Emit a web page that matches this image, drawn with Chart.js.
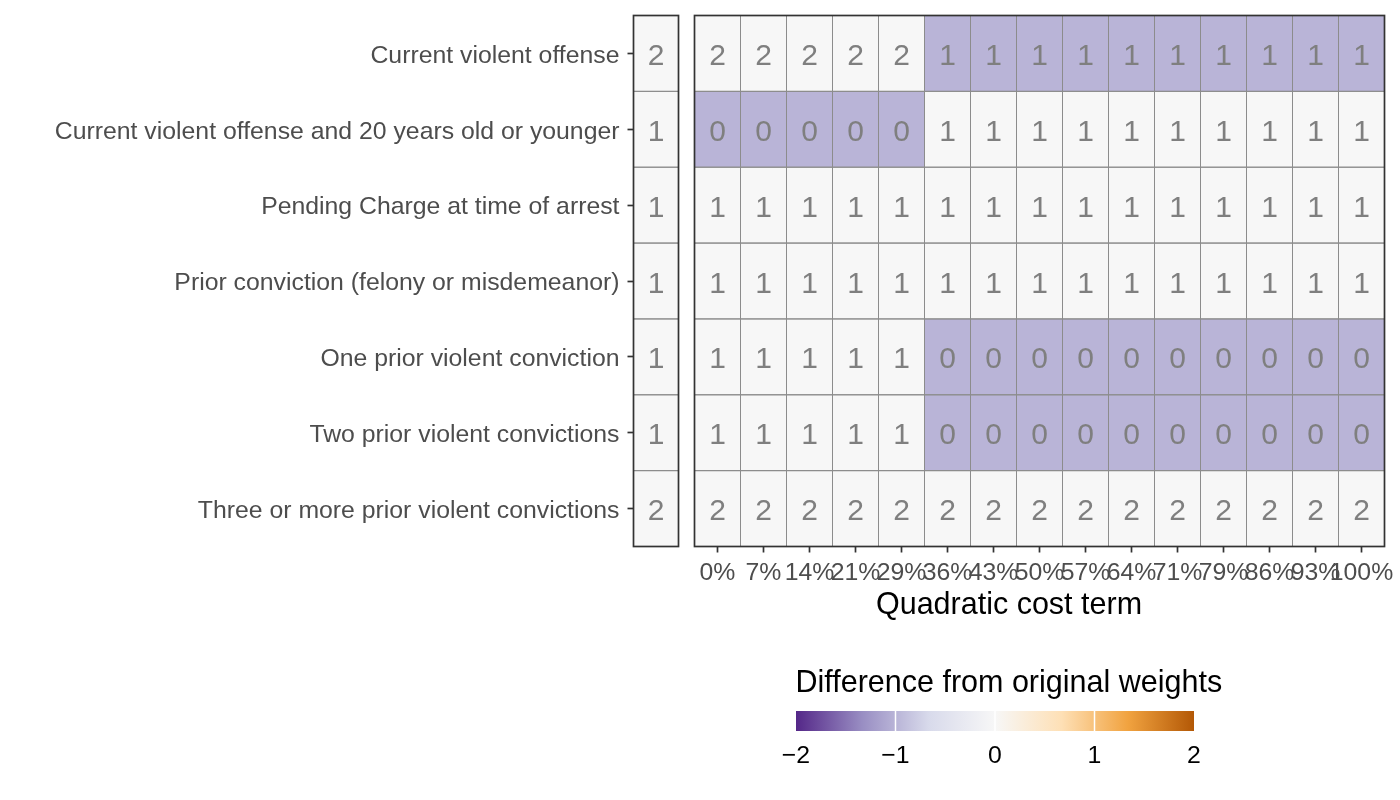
<!DOCTYPE html>
<html>
<head>
<meta charset="utf-8">
<script src="https://cdn.jsdelivr.net/npm/chart.js@4.4.1/dist/chart.umd.min.js"></script>
<style>
  html, body { margin: 0; padding: 0; background: #ffffff; }
  #wrap { position: relative; width: 1400px; height: 800px; }
  canvas { position: absolute; left: 0; top: 0; }
</style>
</head>
<body>
<div id="wrap">
  <canvas id="orig" width="1400" height="800"></canvas>
  <canvas id="main" width="1400" height="800"></canvas>
</div>
<script>
// ---------- data ----------
const rowLabels = [
  "Current violent offense",
  "Current violent offense and 20 years old or younger",
  "Pending Charge at time of arrest",
  "Prior conviction (felony or misdemeanor)",
  "One prior violent conviction",
  "Two prior violent convictions",
  "Three or more prior violent convictions"
];
const originalWeights = [2, 1, 1, 1, 1, 1, 2];
const costLabels = ["0%","7%","14%","21%","29%","36%","43%","50%","57%","64%","71%","79%","86%","93%","100%"];
const wCurrentViolent  = [2,2,2,2,2,1,1,1,1,1,1,1,1,1,1];
const wViolentYoung    = [0,0,0,0,0,1,1,1,1,1,1,1,1,1,1];
const wPendingCharge   = [1,1,1,1,1,1,1,1,1,1,1,1,1,1,1];
const wPriorConviction = [1,1,1,1,1,1,1,1,1,1,1,1,1,1,1];
const wOnePriorViolent = [1,1,1,1,1,0,0,0,0,0,0,0,0,0,0];
const wTwoPriorViolent = [1,1,1,1,1,0,0,0,0,0,0,0,0,0,0];
const wThreePlusViolent= [2,2,2,2,2,2,2,2,2,2,2,2,2,2,2];
const newWeights = [wCurrentViolent, wViolentYoung, wPendingCharge, wPriorConviction,
                    wOnePriorViolent, wTwoPriorViolent, wThreePlusViolent];
const legendBreaks = [-2, -1, 0, 1, 2];
const legendTitle = "Difference from original weights";
const xTitle = "Quadratic cost term";

// ---------- colour scale (PuOr, 7 stops over -2..2) ----------
const paletteStops = [
  [-2, "#542788"], [-4/3, "#998ec3"], [-2/3, "#d8daeb"], [0, "#f7f7f7"],
  [2/3, "#fee0b6"], [4/3, "#f1a340"], [2, "#b35806"]
];
function hexToRgb(h) { return [parseInt(h.slice(1,3),16), parseInt(h.slice(3,5),16), parseInt(h.slice(5,7),16)]; }
function fillFor(d) {
  d = Math.max(-2, Math.min(2, d));
  for (let i = 0; i < paletteStops.length - 1; i++) {
    const [a, ca] = paletteStops[i], [b, cb] = paletteStops[i+1];
    if (d >= a && d <= b) {
      const t = (d - a) / (b - a);
      const A = hexToRgb(ca), B = hexToRgb(cb);
      const c = A.map((v, k) => Math.round(v + (B[k] - v) * t));
      return `rgb(${c[0]},${c[1]},${c[2]})`;
    }
  }
  return "#f7f7f7";
}

const FONT = '"Liberation Sans", Arial, Helvetica, sans-serif';
const PANEL_TOP = 15.5, PANEL_BOTTOM = 546.5;
const LEFT_PANEL = [633.5, 678.5], MAIN_PANEL = [694.5, 1384.5];

// ---------- plugins ----------
const cellText = {
  id: 'cellText',
  afterDatasetsDraw(chart) {
    const ctx = chart.ctx;
    ctx.save();
    // cell outlines
    ctx.strokeStyle = '#8c8c8c';
    ctx.lineWidth = 1;
    chart.data.datasets.forEach((ds, di) => {
      chart.getDatasetMeta(di).data.forEach(el => {
        const h = el.height;
        ctx.strokeRect(Math.min(el.base, el.x), el.y - h / 2, Math.abs(el.x - el.base), h);
      });
    });
    // panel border
    const a = chart.chartArea;
    ctx.strokeStyle = '#333333';
    ctx.lineWidth = 1.7;
    ctx.strokeRect(a.left, a.top, a.right - a.left, a.bottom - a.top);
    // cell values
    ctx.font = '30px ' + FONT;
    ctx.fillStyle = '#7f7f7f';
    ctx.textAlign = 'center';
    ctx.textBaseline = 'alphabetic';
    chart.data.datasets.forEach((ds, di) => {
      chart.getDatasetMeta(di).data.forEach((el, ri) => {
        ctx.fillText(String(ds.cellLabels[ri]), (el.x + el.base) / 2, el.y + 11.6);
      });
    });
    ctx.restore();
  }
};

const extras = {
  id: 'extras',
  afterDraw(chart) {
    const ctx = chart.ctx;
    ctx.save();
    // x axis title, centred across both panels
    ctx.font = '30.5px ' + FONT;
    ctx.fillStyle = '#000000';
    ctx.textAlign = 'center';
    ctx.textBaseline = 'alphabetic';
    ctx.fillText(xTitle, (LEFT_PANEL[0] + MAIN_PANEL[1]) / 2, 614);
    // colour bar legend
    const x0 = 796, x1 = 1194, y0 = 711, y1 = 731;
    const lo = legendBreaks[0], hi = legendBreaks[legendBreaks.length - 1];
    const px = v => x0 + (v - lo) / (hi - lo) * (x1 - x0);
    ctx.textAlign = 'left';
    ctx.fillText(legendTitle, 795.5, 692);
    const g = ctx.createLinearGradient(x0, 0, x1, 0);
    paletteStops.forEach(([v, c]) => g.addColorStop((v - lo) / (hi - lo), c));
    ctx.fillStyle = g;
    ctx.fillRect(x0, y0, x1 - x0, y1 - y0);
    ctx.strokeStyle = '#ffffff';
    ctx.lineWidth = 1.5;
    legendBreaks.slice(1, -1).forEach(v => {
      ctx.beginPath();
      ctx.moveTo(px(v), y0);
      ctx.lineTo(px(v), y1);
      ctx.stroke();
    });
    ctx.font = '24.8px ' + FONT;
    ctx.fillStyle = '#000000';
    ctx.textAlign = 'center';
    legendBreaks.forEach(v => {
      const t = v < 0 ? '\u2212' + Math.abs(v) : String(v);
      ctx.fillText(t, px(v), 763);
    });
    ctx.restore();
  }
};

// ---------- left panel: original weights ----------
new Chart(document.getElementById('orig'), {
  type: 'bar',
  data: {
    labels: rowLabels,
    datasets: [{
      data: originalWeights.map(() => 1),
      cellLabels: originalWeights,
      backgroundColor: originalWeights.map(() => fillFor(0)),
      borderWidth: 0,
      inflateAmount: 0,
      categoryPercentage: 1,
      barPercentage: 1
    }]
  },
  options: {
    indexAxis: 'y',
    responsive: false,
    animation: false,
    events: [],
    layout: { padding: { left: 0, right: 1400 - LEFT_PANEL[1], top: PANEL_TOP, bottom: 800 - PANEL_BOTTOM } },
    plugins: { legend: { display: false }, tooltip: { enabled: false } },
    scales: {
      x: { type: 'linear', min: 0, max: 1, display: false },
      y: {
        type: 'category',
        afterFit: s => { s.width = LEFT_PANEL[0]; s.paddingTop = 0; s.paddingBottom = 0; },
        border: { display: false },
        grid: { display: true, drawOnChartArea: false, drawTicks: true, tickLength: 6,
                tickColor: '#333333', tickWidth: 1.7, offset: false },
        ticks: { color: '#4d4d4d', font: { family: FONT, size: 24.8 }, padding: 8, labelOffset: 2.5 }
      }
    }
  },
  plugins: [cellText]
});

// ---------- main panel: weights by quadratic cost term ----------
const mainDatasets = costLabels.map((lab, c) => ({
  label: lab,
  data: rowLabels.map(() => 1),
  cellLabels: newWeights.map(r => r[c]),
  backgroundColor: newWeights.map((r, ri) => fillFor(r[c] - originalWeights[ri])),
  borderWidth: 0,
  inflateAmount: 0,
  categoryPercentage: 1,
  barPercentage: 1
}));

new Chart(document.getElementById('main'), {
  type: 'bar',
  data: { labels: rowLabels, datasets: mainDatasets },
  options: {
    indexAxis: 'y',
    responsive: false,
    animation: false,
    events: [],
    layout: { padding: { left: MAIN_PANEL[0], right: 1400 - MAIN_PANEL[1], top: PANEL_TOP, bottom: 800 - PANEL_BOTTOM - 75 } },
    plugins: { legend: { display: false }, tooltip: { enabled: false } },
    scales: {
      y: { type: 'category', display: false, stacked: true },
      x: {
        type: 'linear', min: 0, max: costLabels.length, stacked: true,
        afterBuildTicks: axis => { axis.ticks = costLabels.map((_, i) => ({ value: i + 0.5 })); },
        afterFit: s => { s.height = 75; },
        border: { display: false },
        grid: { display: true, drawOnChartArea: false, drawTicks: true, tickLength: 6,
                tickColor: '#333333', tickWidth: 1.7 },
        ticks: {
          color: '#4d4d4d', font: { family: FONT, size: 24.8 }, padding: 6,
          autoSkip: false, maxRotation: 0, minRotation: 0,
          callback: (v, i) => costLabels[i]
        },
        title: { display: false }
      }
    }
  },
  plugins: [cellText, extras]
});
</script>
</body>
</html>
